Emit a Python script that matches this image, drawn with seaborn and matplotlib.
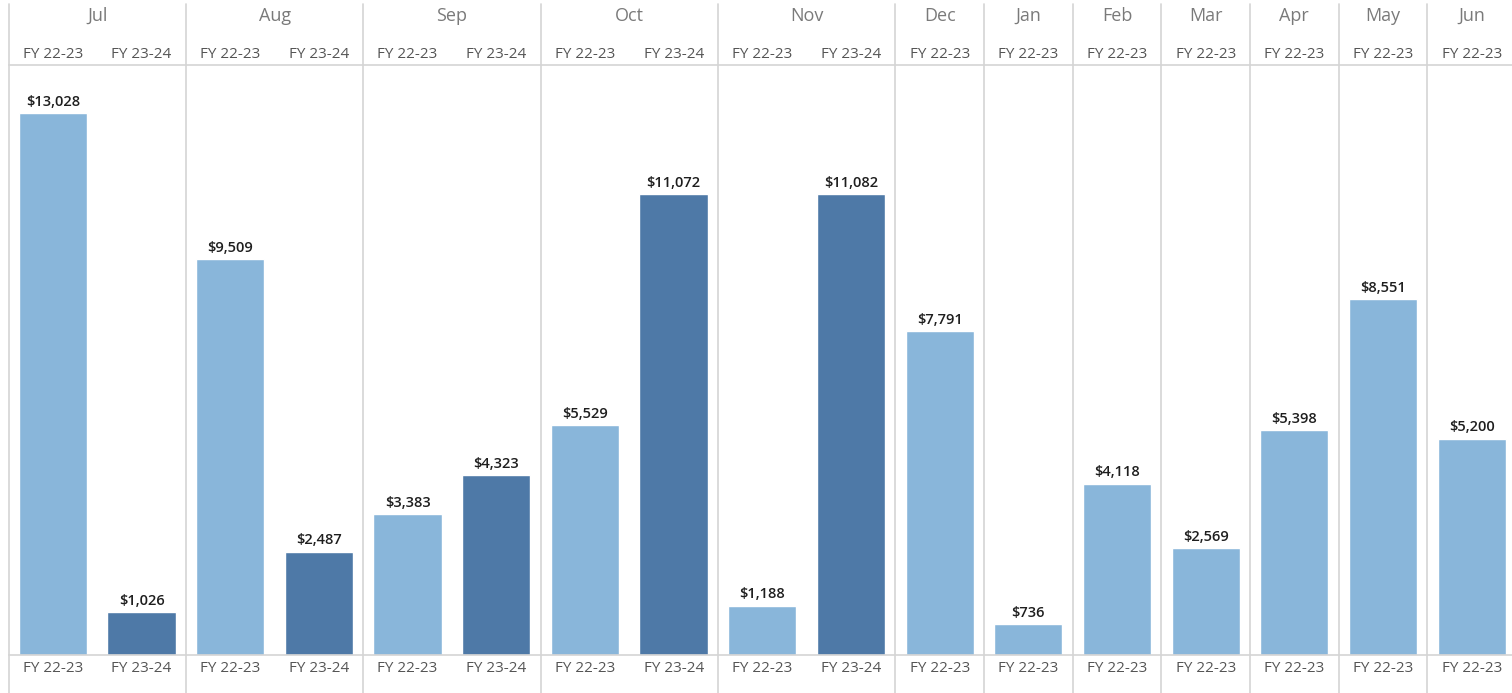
import numpy as np
import pandas as pd
import matplotlib
matplotlib.use("Agg")
import matplotlib.pyplot as plt
import matplotlib.transforms as mtransforms
import seaborn as sns

# ---- Data ----
months = ["Jul", "Aug", "Sep", "Oct", "Nov", "Dec", "Jan", "Feb", "Mar", "Apr", "May", "Jun"]
fy_2223 = [13028, 9509, 3383, 5529, 1188, 7791, 736, 4118, 2569, 5398, 8551, 5200]
fy_2324 = [1026, 2487, 4323, 11072, 11082]   # only Jul-Nov
fy_labels = ["FY 22-23", "FY 23-24"]
colors = {"FY 22-23": "#89b6da", "FY 23-24": "#4e79a7"}

# ---- Build long table, one slot per month/FY ----
rows = []
for i, m in enumerate(months):
    rows.append({"slot": f"{m} FY 22-23", "month": m, "fy": "FY 22-23", "sales": fy_2223[i]})
    if i < len(fy_2324):
        rows.append({"slot": f"{m} FY 23-24", "month": m, "fy": "FY 23-24", "sales": fy_2324[i]})
df = pd.DataFrame(rows)
slots = list(df["slot"])

sns.set_theme(style="white")
plt.rcParams["font.family"] = ["Open Sans", "DejaVu Sans"]

fig = plt.figure(figsize=(15.12, 6.93), dpi=100)
W, H = 1512, 693
ax_left, ax_right = 8.6, 1516
ax_top, ax_bot = 65, 655
ax = fig.add_axes([ax_left / W, (H - ax_bot) / H, (ax_right - ax_left) / W, (ax_bot - ax_top) / H])

sns.barplot(data=df, x="slot", y="sales", hue="fy", order=slots, hue_order=fy_labels,
            palette=colors, dodge=False, width=0.77, saturation=1, legend=False, ax=ax)

ax.set_xlim(-0.5, len(slots) - 0.5)
ax.set_ylim(0, 14180)
ax.set_xlabel("")
ax.set_ylabel("")
ax.set_xticks([])
ax.set_yticks([])
for s in ["left", "right"]:
    ax.spines[s].set_visible(False)
for s in ["top", "bottom"]:
    ax.spines[s].set_color("#d4d4d4")
    ax.spines[s].set_linewidth(1.2)

# value labels
for cont in ax.containers:
    ax.bar_label(cont, labels=[f"${v:,.0f}" for v in cont.datavalues], padding=3,
                 fontsize=10.5, color="#1e1e1e", fontweight="semibold")

trans = mtransforms.blended_transform_factory(ax.transData, ax.transAxes)
h = ax_bot - ax_top

# month separators
bounds = [-0.5]
pos = 0
for m in months:
    n = int((df["month"] == m).sum())
    pos += n
    bounds.append(pos - 0.5)
for b in bounds:
    ax.plot([b, b], [-(H - ax_bot) / h, 1 + (ax_top - 4) / h], transform=trans,
            color="#d4d4d4", lw=1.2, clip_on=False, zorder=0)

# month headers
for i, m in enumerate(months):
    ax.text((bounds[i] + bounds[i + 1]) / 2, 1 + (ax_top - 16) / h, m, transform=trans,
            ha="center", va="center", fontsize=13, color="#7a7a7a")

# FY labels, top and bottom
for k, row in df.iterrows():
    ax.text(k, 1 + (ax_top - 55) / h, row["fy"], transform=trans,
            ha="center", va="center", fontsize=11, color="#555555")
    ax.text(k, -(669 - ax_bot) / h, row["fy"], transform=trans,
            ha="center", va="center", fontsize=11, color="#555555")

fig.savefig("out.png", dpi=100)
